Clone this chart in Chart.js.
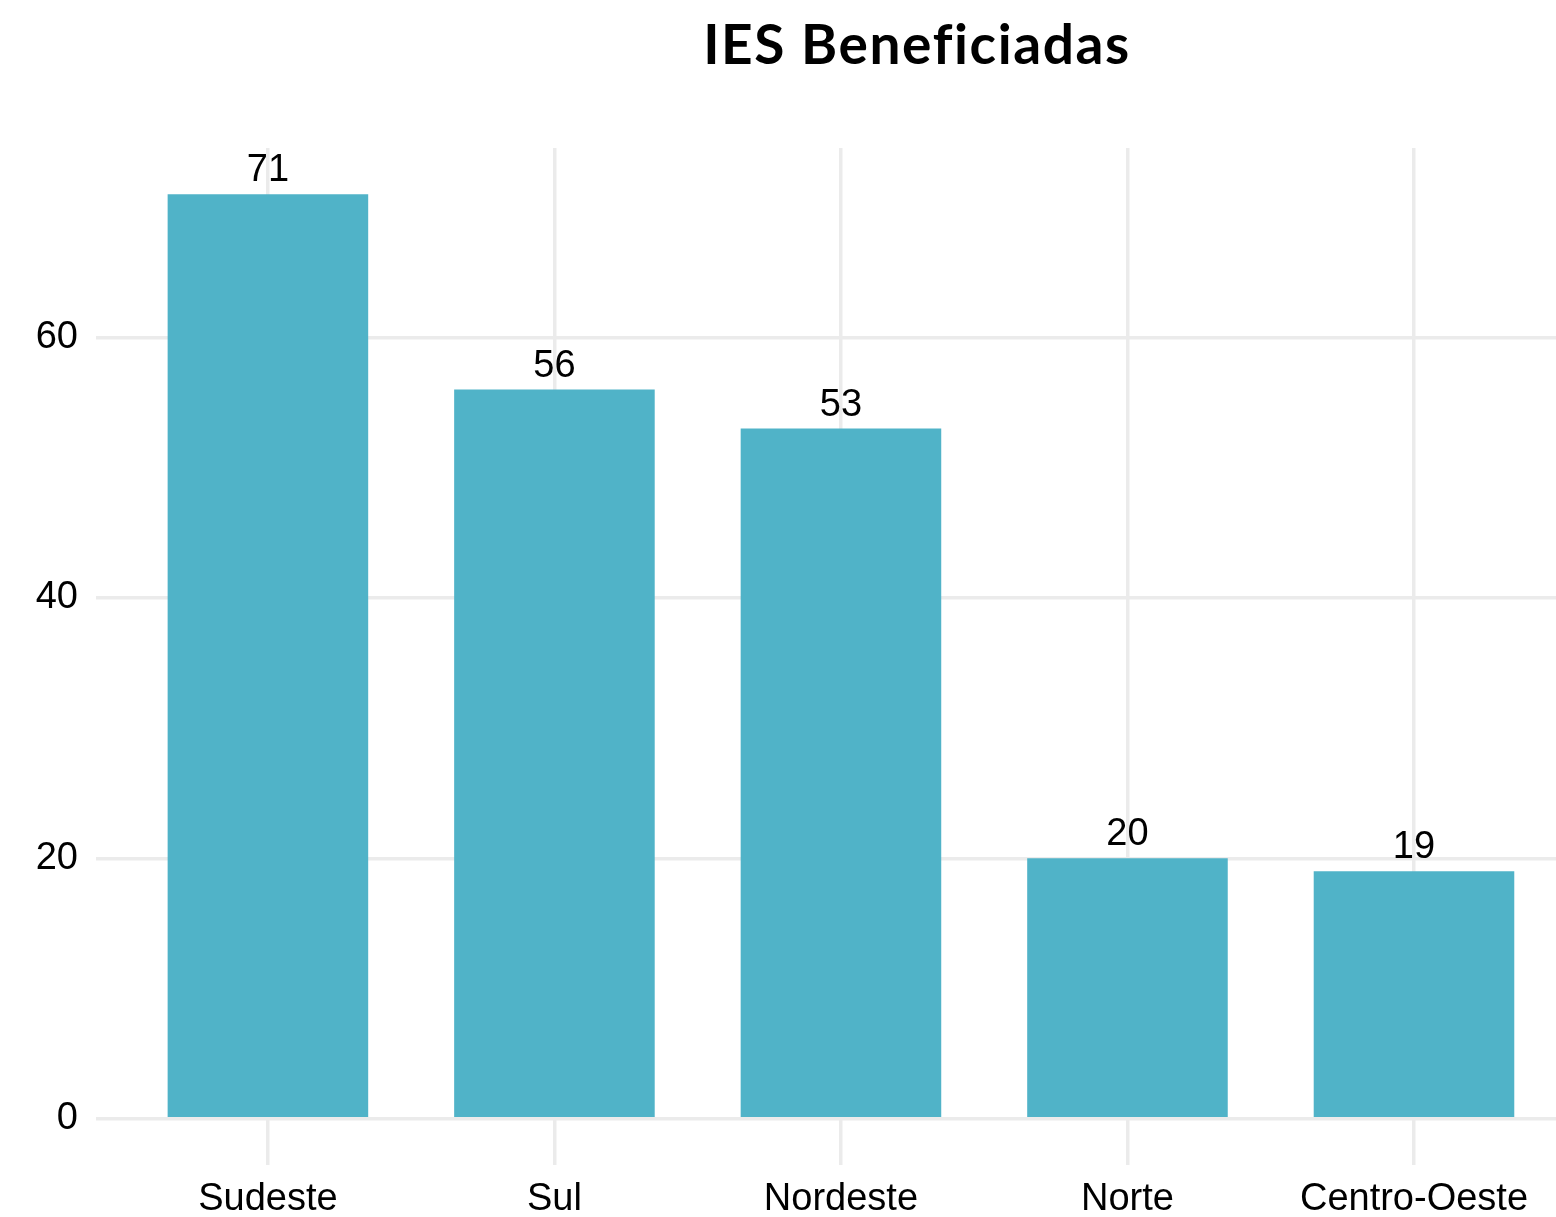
<!DOCTYPE html>
<html>
<head>
<meta charset="utf-8">
<script src="https://cdn.jsdelivr.net/npm/chart.js@4/dist/chart.umd.min.js"></script>
<style>
  html, body { margin: 0; padding: 0; background: #ffffff; }
  #wrap { width: 1556px; height: 1217px; }
</style>
</head>
<body>
<div id="wrap"><canvas id="c" width="1556" height="1217"></canvas></div>
<script>
const chartTitle = "IES Beneficiadas";
const categories = ["Sudeste", "Sul", "Nordeste", "Norte", "Centro-Oeste"];
const values = [71, 56, 53, 20, 19];
const yTicks = [0, 20, 40, 60];

const barColor = "#50b3c8";
const gridColor = "#ebebeb";
const tickFont = { family: "'Liberation Sans', Arial, sans-serif", size: 38 };

const points = values.map((v, i) => ({ x: i, y: v }));

const titlePlugin = {
  id: "ggTitle",
  afterDraw(chart) {
    const ctx = chart.ctx;
    ctx.save();
    ctx.font = "bold 55px Lato, 'Liberation Sans', sans-serif";
    if ("letterSpacing" in ctx) ctx.letterSpacing = "1.6px";
    ctx.fillStyle = "#000000";
    ctx.textAlign = "center";
    ctx.textBaseline = "alphabetic";
    ctx.fillText(chartTitle, 917, 64);
    ctx.restore();
  }
};

const labelPlugin = {
  id: "barLabels",
  afterDatasetsDraw(chart) {
    const ctx = chart.ctx;
    const meta = chart.getDatasetMeta(0);
    ctx.save();
    ctx.font = "38px 'Liberation Sans', Arial, sans-serif";
    ctx.fillStyle = "#000000";
    ctx.textAlign = "center";
    ctx.textBaseline = "alphabetic";
    meta.data.forEach((bar, i) => {
      ctx.fillText(String(values[i]), bar.x, bar.y - 13);
    });
    ctx.restore();
  }
};

new Chart(document.getElementById("c"), {
  type: "bar",
  data: {
    datasets: [{
      data: points,
      backgroundColor: barColor,
      borderWidth: 0,
      categoryPercentage: 0.7,
      barPercentage: 1.0
    }]
  },
  options: {
    responsive: false,
    animation: false,
    devicePixelRatio: 1,
    layout: { padding: { top: 148, left: 0, right: 0, bottom: 0 } },
    plugins: { legend: { display: false }, tooltip: { enabled: false }, title: { display: false } },
    scales: {
      x: {
        type: "linear",
        offset: false,
        min: -0.6,
        max: (1556 - 268) / 286.5,
        grid: { color: gridColor, lineWidth: 3.5, drawTicks: false, offset: false },
        border: { display: false },
        afterBuildTicks(scale) { scale.ticks = categories.map((_, i) => ({ value: i })); },
        afterFit(scale) { scale.height = 52; },
        ticks: {
          font: tickFont,
          color: "#000000",
          padding: 12,
          maxRotation: 0,
          autoSkip: false,
          callback: (v) => categories[v] ?? ""
        }
      },
      y: {
        min: -3.55,
        max: 74.55,
        grid: { color: gridColor, lineWidth: 3.5, drawTicks: false },
        border: { display: false },
        afterBuildTicks(scale) { scale.ticks = yTicks.map(v => ({ value: v })); },
        afterFit(scale) { scale.width = 96; },
        ticks: { font: tickFont, color: "#000000", padding: 18 }
      }
    }
  },
  plugins: [titlePlugin, labelPlugin]
});
</script>
</body>
</html>
